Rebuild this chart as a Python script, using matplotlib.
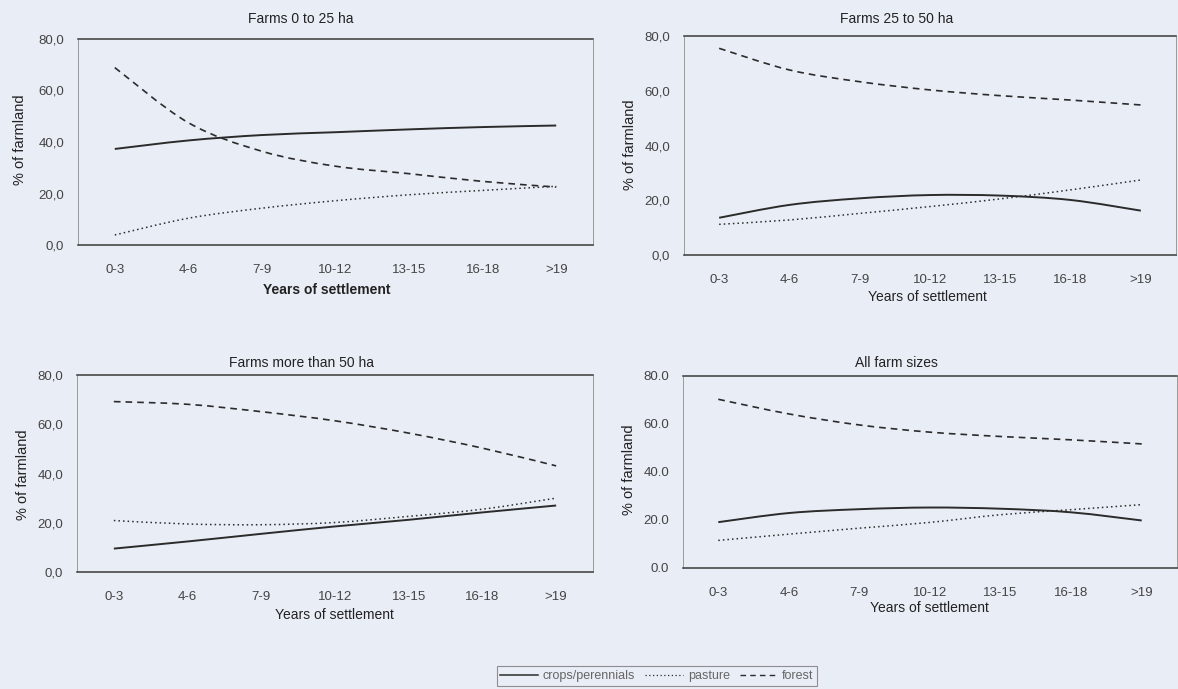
import matplotlib
matplotlib.use('Agg')
import numpy as np
import matplotlib.pyplot as plt
from matplotlib.lines import Line2D
from matplotlib.path import Path
from matplotlib.patches import PathPatch

plt.rcParams['font.family'] = ['Liberation Sans', 'DejaVu Sans']

periods = ['0-3', '4-6', '7-9', '10-12', '13-15', '16-18', '>19']

# % of farmland
crops_0_25 = [37.3, 40.6, 42.7, 43.8, 44.9, 45.8, 46.4]
pasture_0_25 = [3.9, 10.4, 14.3, 17.2, 19.5, 21.2, 22.8]
forest_0_25 = [68.9, 47.5, 36.4, 30.6, 27.7, 24.7, 22.5]

crops_25_50 = [13.6, 18.3, 20.7, 21.9, 21.7, 20.1, 16.2]
pasture_25_50 = [11.2, 12.8, 15.2, 17.7, 20.5, 23.8, 27.4]
forest_25_50 = [75.5, 67.6, 63.3, 60.3, 58.2, 56.6, 54.8]

crops_50 = [9.5, 12.4, 15.5, 18.5, 21.2, 24.2, 27.0]
pasture_50 = [20.9, 19.5, 19.2, 20.1, 22.6, 25.5, 30.0]
forest_50 = [69.2, 68.1, 65.1, 61.4, 56.4, 50.3, 43.1]

crops_all = [19.1, 22.9, 24.5, 25.2, 24.7, 23.2, 19.8]
pasture_all = [11.5, 14.1, 16.6, 19.0, 22.2, 24.3, 26.4]
forest_all = [70.3, 64.2, 59.6, 56.6, 54.8, 53.4, 51.7]

bg = '#e9edf6'
ink = '#2b2b2b'
W, H = 1178., 689.


def smooth_line(ax, xs, ys, **kw):
    # spreadsheet-style "smoothed line": cubic bezier through the points
    p = np.column_stack([xs, ys]).astype(float)
    n = len(p)
    verts = [p[0]]
    codes = [Path.MOVETO]
    for i in range(n - 1):
        a = p[max(i - 1, 0)]
        b = p[i]
        c = p[i + 1]
        d = p[min(i + 2, n - 1)]
        verts += [b + (c - a) / 6., c - (d - b) / 6., c]
        codes += [Path.CURVE4] * 3
    ax.add_patch(PathPatch(Path(verts, codes), fill=False, capstyle='butt', **kw))


fig = plt.figure(figsize=(11.78, 6.89), dpi=100, facecolor=bg)

def box(x0, y0, x1, y1):
    return [x0/W, 1-y1/H, (x1-x0)/W, (y1-y0)/H]

panels = [
    ('Farms 0 to 25 ha', box(78, 39, 593, 245), crops_0_25, pasture_0_25, forest_0_25, ',', (301, 19), (327, 290), (20, 140), True),
    ('Farms 25 to 50 ha', box(684, 36, 1176, 255), crops_25_50, pasture_25_50, forest_25_50, ',', (897, 19), (927, 297), (630, 145), False),
    ('Farms more than 50 ha', box(77, 375, 593, 572), crops_50, pasture_50, forest_50, ',', (301, 363), (334, 615), (23, 475), False),
    ('All farm sizes', box(683, 376, 1177, 568), crops_all, pasture_all, forest_all, '.', (896, 363), (929, 608), (629, 470), False),
]

x = np.arange(len(periods))
for title, pos, crops, pasture, forest, sep, tpos, xlpos, ylpos, heavy in panels:
    ax = fig.add_axes(pos)
    ax.set_facecolor(bg)
    smooth_line(ax, x, crops, edgecolor=ink, lw=1.4, ls='-')
    smooth_line(ax, x, pasture, edgecolor=ink, lw=1.1, ls=(0, (1, 2)))
    smooth_line(ax, x, forest, edgecolor=ink, lw=1.2, ls=(0, (4, 3)))
    ax.set_xlim(-0.5, 6.5)
    ax.set_ylim(0, 80)
    ax.set_xticks(x)
    ax.set_xticklabels(periods)
    yt = [0, 20, 40, 60, 80]
    ax.set_yticks(yt)
    ax.set_yticklabels([('%.1f' % v).replace('.', sep) for v in yt])
    ax.tick_params(length=0, labelsize=9.5, labelcolor='#444444')
    ax.tick_params(axis='x', pad=14)
    ax.tick_params(axis='y', pad=10)
    for s in ['top', 'bottom']:
        ax.spines[s].set_color('#3a3a3a')
        ax.spines[s].set_linewidth(1.1)
    for s in ['left', 'right']:
        ax.spines[s].set_color('#9a9a9a')
        ax.spines[s].set_linewidth(0.7)
        ax.spines[s].set_linestyle((0, (1, 1)))
    w = 'bold' if heavy else 'normal'
    fig.text(tpos[0]/W, 1-tpos[1]/H, title, ha='center', va='center', fontsize=10, color='#222222')
    fig.text(xlpos[0]/W, 1-xlpos[1]/H, 'Years of settlement', ha='center', va='center', fontsize=10,
             color='#222222', fontweight=w)
    fig.text(ylpos[0]/W, 1-ylpos[1]/H, '% of farmland', ha='center', va='center', rotation=90, fontsize=10.5,
             color='#222222')

handles = [Line2D([], [], color=ink, lw=1.1, ls='-'),
           Line2D([], [], color=ink, lw=0.9, ls=(0, (1, 2))),
           Line2D([], [], color=ink, lw=1.0, ls=(0, (4, 3)))]
leg = fig.legend(handles, ['crops/perennials', 'pasture', 'forest'], loc='center',
                 bbox_to_anchor=(657/W, 1-676/H), ncol=3, frameon=True, fancybox=False,
                 fontsize=9, handlelength=3.0, handletextpad=0.4, columnspacing=0.8,
                 borderpad=0.3, labelcolor='#666666')
leg.get_frame().set_facecolor(bg)
leg.get_frame().set_edgecolor('#777777')
leg.get_frame().set_linewidth(0.8)

plt.savefig('out.png', dpi=100, facecolor=bg)
